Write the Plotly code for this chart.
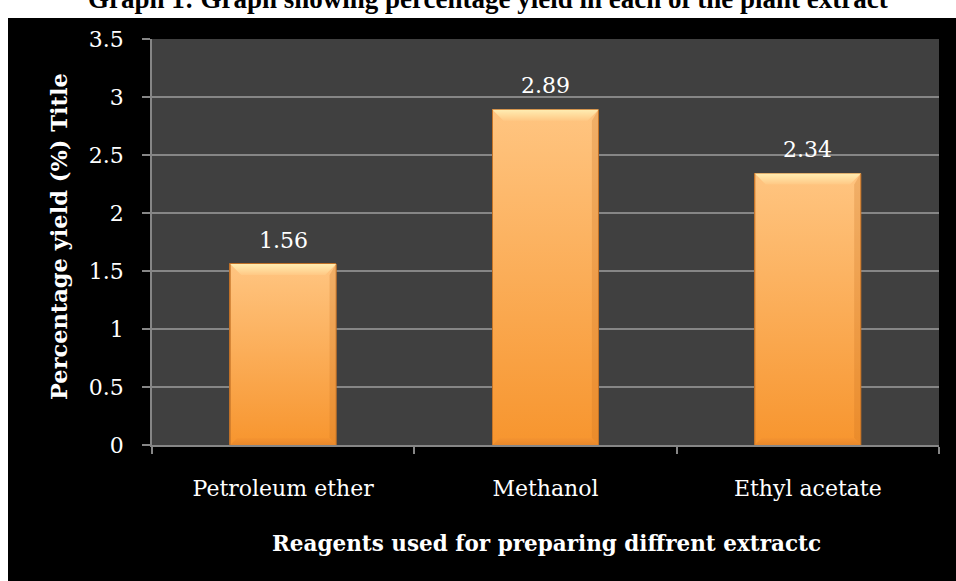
import plotly.graph_objects as go

# Percentage yield of each plant extract by extraction solvent
categories = ["Petroleum ether", "Methanol", "Ethyl acetate"]
yield_pct = [1.56, 2.89, 2.34]
y_ticks = [0, 0.5, 1, 1.5, 2, 2.5, 3, 3.5]
y_tick_text = ["0", "0.5", "1", "1.5", "2", "2.5", "3", "3.5"]

W, H = 956, 581
ML, MR, MT, MB = 152, 17, 39, 136
PW, PH = W - ML - MR, H - MT - MB
Y_MAX = 3.5
X_RANGE = [-0.5, 2.5]
BAR_W = 0.404

SERIF = "DejaVu Serif, Liberation Serif, serif"
GRID = "#868686"

# pixel -> data unit conversions for bevel sizes
ux = (X_RANGE[1] - X_RANGE[0]) / PW
uy = Y_MAX / PH


def px_x(p):
    return (p - ML) / PW


def px_y(p):
    return (H - MB - p) / PH


fig = go.Figure()

xs = list(range(len(categories)))

# base bars
fig.add_trace(go.Bar(
    x=xs, y=yield_pct, width=BAR_W,
    marker=dict(color="#FBAE5C", line=dict(color="#C07028", width=1)),
    hovertext=categories, hoverinfo="text+y", showlegend=False,
))

# gradient body, bevel highlights for each bar
for i, v in zip(xs, yield_pct):
    x0, x1 = i - BAR_W / 2, i + BAR_W / 2
    fig.add_trace(go.Scatter(
        x=[x0, x1, x1, x0, x0], y=[0, 0, v, v, 0],
        mode="lines", fill="toself",
        line=dict(color="#C47428", width=1),
        fillgradient=dict(type="vertical", start=0, stop=v,
                          colorscale=[[0, "#F7952E"], [1, "#FFC581"]]),
        hoverinfo="skip", showlegend=False,
    ))
    # top bevel
    h, d = 11 * uy, 11 * ux
    fig.add_trace(go.Scatter(
        x=[x0, x1, x1 - d, x0 + d, x0], y=[v, v, v - h, v - h, v],
        mode="lines", fill="toself", line=dict(width=0),
        fillgradient=dict(type="vertical", start=v - h, stop=v,
                          colorscale=[[0, "#FFC884"], [1, "#FFEDB2"]]),
        hoverinfo="skip", showlegend=False,
    ))
    # bottom bevel
    hb, db = 7 * uy, 7 * ux
    fig.add_trace(go.Scatter(
        x=[x0, x1, x1 - db, x0 + db, x0], y=[0, 0, hb, hb, 0],
        mode="lines", fill="toself", line=dict(width=0),
        fillgradient=dict(type="vertical", start=0, stop=hb,
                          colorscale=[[0, "#E8872A"], [1, "#F59431"]]),
        hoverinfo="skip", showlegend=False,
    ))
    # right edge shading
    fig.add_trace(go.Scatter(
        x=[x1, x1, x1 - d * 0.6, x1 - d * 0.6, x1],
        y=[0, v, v - h, hb, 0],
        mode="lines", fill="toself", line=dict(width=0),
        fillcolor="rgba(200,110,30,0.25)",
        hoverinfo="skip", showlegend=False,
    ))
    # value label
    fig.add_annotation(x=i, y=v, text=f"{v:.2f}", showarrow=False,
                       yshift=24, yanchor="middle",
                       font=dict(family=SERIF, size=22, color="white"))

# white page strips around the black chart area
fig.add_shape(type="rect", xref="paper", yref="paper",
              x0=-1, x1=2, y0=px_y(18), y1=2,
              fillcolor="white", line=dict(width=0), layer="above")
fig.add_shape(type="rect", xref="paper", yref="paper",
              x0=-1, x1=px_x(8), y0=-1, y1=2,
              fillcolor="white", line=dict(width=0), layer="above")

# caption above the chart
fig.add_annotation(
    xref="paper", yref="paper", x=px_x(488), y=px_y(16),
    xanchor="center", yanchor="bottom", showarrow=False,
    text="<b>Graph 1: Graph showing percentage yield in each of the plant extract</b>",
    font=dict(family="Liberation Serif, Times New Roman, serif", size=27, color="black"),
)

# axis titles
fig.add_annotation(
    xref="paper", yref="paper", x=px_x(59), y=px_y(237),
    xanchor="center", yanchor="middle", textangle=-90, showarrow=False,
    text="<b>Percentage yield (%) Title</b>",
    font=dict(family=SERIF, size=22.5, color="white"),
)
fig.add_annotation(
    xref="paper", yref="paper", x=px_x(546), y=px_y(543),
    xanchor="center", yanchor="middle", showarrow=False,
    text="<b>Reagents used for preparing diffrent extractc</b>",
    font=dict(family=SERIF, size=21.5, color="white"),
)

fig.update_layout(
    width=W, height=H,
    margin=dict(l=ML, r=MR, t=MT, b=MB, pad=0),
    paper_bgcolor="black", plot_bgcolor="#404040",
    bargap=0, showlegend=False,
    xaxis=dict(
        range=X_RANGE, tickmode="array", tickvals=xs, ticktext=categories,
        ticks="", showgrid=False, zeroline=False,
        showline=True, linecolor=GRID, linewidth=1.5,
        tickfont=dict(family=SERIF, size=22, color="white"),
        ticklabelstandoff=23,
        minor=dict(tick0=-0.5, dtick=1, ticks="outside", ticklen=7,
                   tickcolor=GRID, tickwidth=1.5, showgrid=False),
        fixedrange=True,
    ),
    yaxis=dict(
        range=[0, Y_MAX], tickmode="array", tickvals=y_ticks, ticktext=y_tick_text,
        showgrid=True, gridcolor=GRID, gridwidth=1.5, zeroline=False,
        showline=True, linecolor=GRID, linewidth=1.5,
        ticks="outside", ticklen=8, tickcolor=GRID, tickwidth=1.5,
        tickfont=dict(family=SERIF, size=22, color="white"),
        ticklabelstandoff=14,
        fixedrange=True,
    ),
)

fig.write_html("out.html")
